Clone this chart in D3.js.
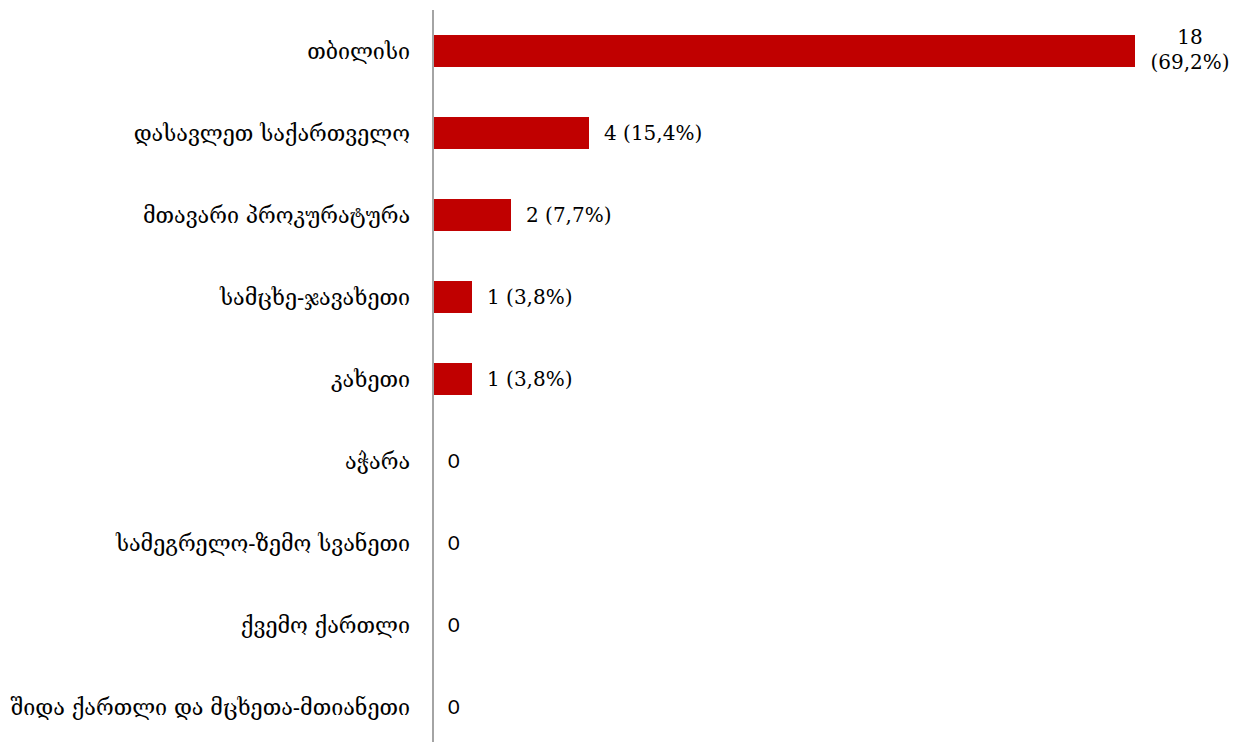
<!DOCTYPE html>
<html><head><meta charset="utf-8">
<script src="https://cdn.jsdelivr.net/npm/d3@7/dist/d3.min.js"></script>
<style>body{margin:0;background:#fff}svg{display:block}</style>
</head><body>
<svg id="c" width="1240" height="742"></svg>
<script>
const categories = ["თბილისი","დასავლეთ საქართველო","მთავარი პროკურატურა","სამცხე-ჯავახეთი","კახეთი","აჭარა","სამეგრელო-ზემო სვანეთი","ქვემო ქართლი","შიდა ქართლი და მცხეთა-მთიანეთი"];
const values = [18,4,2,1,1,0,0,0,0];
const percents = ["69,2%","15,4%","7,7%","3,8%","3,8%","","","",""];

const svg = d3.select("#c");
const x0 = 433;
const x = d3.scaleLinear().domain([0,18]).range([x0, 1135]);
const y = d3.scaleBand().domain(categories).range([10,748]).paddingInner(0.61).paddingOuter(0.305);

svg.append("line").attr("x1",x0).attr("x2",x0).attr("y1",10).attr("y2",742)
  .attr("stroke","#868686").attr("stroke-width",1.5);

svg.selectAll("rect.bar").data(categories).enter().append("rect")
  .attr("x",x0+1).attr("y",d=>y(d))
  .attr("width",(d,i)=>Math.max(0,x(values[i])-x0-1))
  .attr("height",y.bandwidth())
  .attr("fill","#C00000");

svg.selectAll("text.cat").data(categories).enter().append("text")
  .attr("x",410).attr("y",d=>y(d)+y.bandwidth()/2)
  .attr("dy","0.35em").attr("text-anchor","end")
  .attr("font-family","'DejaVu Serif', serif").attr("font-size",21.5)
  .attr("fill","#000").text(d=>d);

const lab = svg.selectAll("text.val").data(categories).enter().append("text")
  .attr("font-family","'DejaVu Serif', serif").attr("font-size",20).attr("fill","#000");
lab.each(function(d,i){
  const t = d3.select(this);
  const cy = y(d)+y.bandwidth()/2;
  if (i===0){
    t.attr("text-anchor","middle");
    t.append("tspan").attr("x",x(values[i])+55).attr("y",cy-14).attr("dy","0.35em").text(values[i]);
    t.append("tspan").attr("x",x(values[i])+55).attr("y",cy+11).attr("dy","0.35em").text("("+percents[i]+")");
  } else if (values[i]===0){
    t.attr("x",x(0)+15).attr("y",cy).attr("dy","0.35em")
      .attr("font-family","Lato, sans-serif").attr("font-size",20).text("0");
  } else {
    t.attr("x",x(values[i])+15).attr("y",cy).attr("dy","0.35em").text(values[i]+" ("+percents[i]+")");
  }
});
</script>
</body></html>
